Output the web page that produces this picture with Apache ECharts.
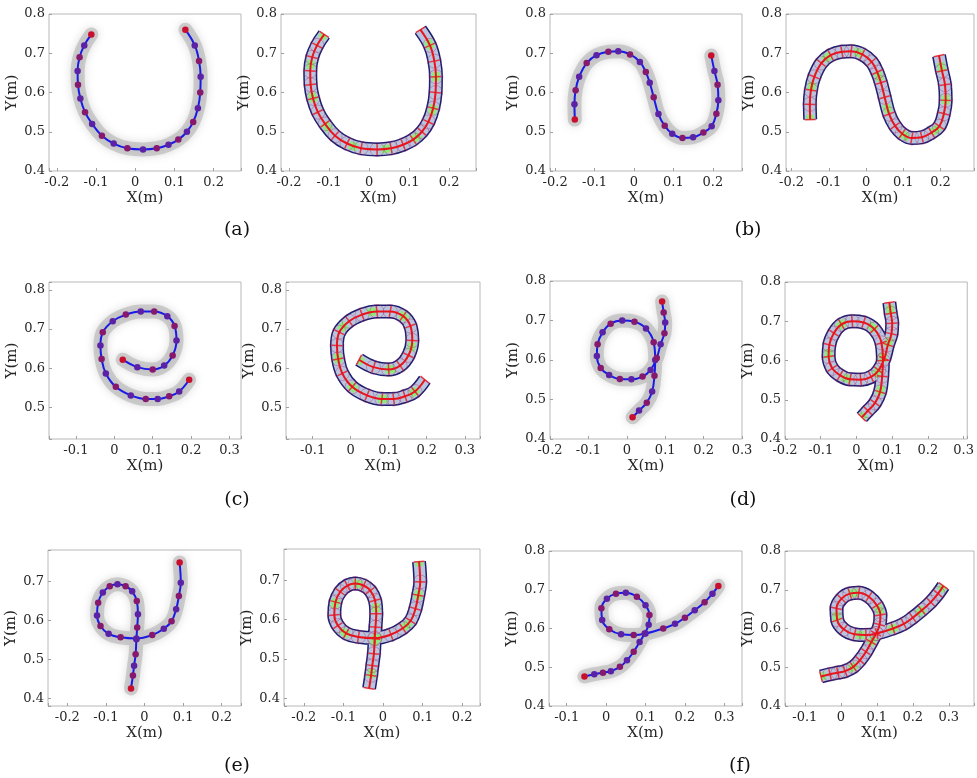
<!DOCTYPE html>
<html><head><meta charset="utf-8">
<script src="https://cdn.jsdelivr.net/npm/echarts@6/dist/echarts.min.js"></script>
<style>html,body{margin:0;padding:0;background:#fff}#c{width:977px;height:778px}</style>
</head><body><div id="c"></div>
<script>
// ---- data: stroke centerlines (metres) ----
const aX=[-0.112,-0.13,-0.142,-0.147,-0.146,-0.14,-0.128,-0.11,-0.085,-0.055,-0.02,0.02,0.055,0.085,0.11,0.132,0.148,0.16,0.166,0.167,0.163,0.152,0.128];
const aY=[0.748,0.72,0.69,0.655,0.62,0.585,0.55,0.52,0.49,0.47,0.458,0.455,0.458,0.467,0.48,0.5,0.525,0.56,0.6,0.64,0.68,0.72,0.76];
const bX=[-0.15,-0.151,-0.148,-0.139,-0.12,-0.095,-0.065,-0.04,-0.01,0.015,0.03,0.04,0.05,0.062,0.078,0.097,0.123,0.15,0.176,0.197,0.209,0.214,0.212,0.204,0.196];
const bY=[0.531,0.57,0.606,0.64,0.675,0.695,0.704,0.705,0.697,0.678,0.652,0.625,0.588,0.545,0.515,0.495,0.484,0.486,0.498,0.514,0.546,0.58,0.62,0.655,0.694];
const cX=[0.022,0.06,0.1,0.13,0.152,0.162,0.157,0.138,0.104,0.069,0.03,-0.004,-0.03,-0.036,-0.033,-0.022,0.004,0.043,0.082,0.113,0.143,0.169,0.195];
const cY=[0.622,0.603,0.597,0.607,0.633,0.671,0.708,0.733,0.745,0.745,0.737,0.72,0.692,0.658,0.624,0.587,0.553,0.531,0.522,0.522,0.529,0.541,0.571];
const dX=[0.015,0.032,0.052,0.066,0.072,0.074,0.07,0.05,0.02,-0.012,-0.042,-0.063,-0.076,-0.078,-0.068,-0.046,-0.018,0.012,0.041,0.062,0.078,0.088,0.098,0.1,0.096,0.092];
const dY=[0.455,0.472,0.492,0.52,0.56,0.6,0.645,0.68,0.697,0.7,0.692,0.67,0.64,0.61,0.58,0.562,0.552,0.551,0.558,0.575,0.605,0.64,0.668,0.695,0.72,0.748];
const eX=[0.091,0.094,0.089,0.082,0.07,0.05,0.02,-0.021,-0.062,-0.093,-0.114,-0.123,-0.12,-0.108,-0.09,-0.07,-0.049,-0.032,-0.02,-0.017,-0.019,-0.021,-0.023,-0.027,-0.03,-0.035];
const eY=[0.748,0.696,0.662,0.628,0.597,0.578,0.562,0.553,0.556,0.565,0.585,0.612,0.645,0.671,0.687,0.692,0.687,0.674,0.649,0.615,0.581,0.551,0.513,0.483,0.458,0.425];
const fX=[-0.055,-0.03,-0.008,0.012,0.035,0.053,0.07,0.085,0.098,0.108,0.11,0.1,0.078,0.05,0.025,0.002,-0.012,-0.01,0.008,0.038,0.07,0.1,0.145,0.175,0.2,0.225,0.25,0.27,0.285];
const fY=[0.476,0.482,0.486,0.49,0.501,0.518,0.54,0.565,0.587,0.61,0.635,0.66,0.682,0.692,0.69,0.677,0.652,0.622,0.598,0.585,0.583,0.587,0.6,0.612,0.628,0.647,0.668,0.69,0.71];

// ---- axis limits ----
const xLimLeft =[[-0.22,0.27],[-0.213,0.274],[-0.17,0.33],[-0.2,0.3],[-0.25,0.25],[-0.145,0.345]];
const xLimRight=[[-0.22,0.267],[-0.215,0.29],[-0.17,0.34],[-0.2,0.31],[-0.25,0.245],[-0.155,0.37]];
const yLims   =[[0.4,0.8],[0.4,0.8],[0.42,0.82],[0.4,0.8],[0.38,0.78],[0.4,0.8]];
const panelLabels=['(a)','(b)','(c)','(d)','(e)','(f)'];
const xName='X(m)', yName='Y(m)';

// ---- layout (pixels) ----
const gridLeftBox =[[49,14,192,157],[550,14,192,157],[49,282,192,157],[550,281,192,158],[48,550,193,156],[549,551,193,155]];
const gridRightBox=[[281,14,195,157],[786,14,200,157],[286,282,194,157],[785,282,200,157],[284,549,196,157],[785,551,200,155]];
const labelPos=[[237,230],[748,230],[237,500],[743,500],[237,766],[740,766]];

const strokes=[[aX,aY],[bX,bY],[cX,cY],[dX,dY],[eX,eY],[fX,fY]];
const FONT='DejaVu Serif', TXT='#262626';

function fmt(v){const r=Math.round(v*10);return Math.abs(v*10-r)<1e-6?(r===0?'0':String(r/10)):'';}

const grids=[],xAxes=[],yAxes=[],series=[],graphics=[];
function addAxes(box,xl,yl){
  const gi=grids.length;
  grids.push({left:box[0],top:box[1],width:box[2],height:box[3],show:true,borderColor:'#b8b8b8',borderWidth:1,backgroundColor:'#fff'});
  const common={gridIndex:gi,type:'value',splitNumber:5,minInterval:0.1,maxInterval:0.1,
    splitLine:{show:false},axisLine:{show:false,onZero:false},
    axisTick:{show:true,inside:true,length:3,lineStyle:{color:'#a0a0a0'}},
    axisLabel:{formatter:fmt,color:TXT,fontFamily:FONT,fontSize:13,showMinLabel:true,showMaxLabel:true},
    nameLocation:'middle',nameTextStyle:{color:TXT,fontFamily:FONT,fontSize:15}};
  xAxes.push(Object.assign({},common,{min:xl[0],max:xl[1],name:xName,nameGap:20,axisLabel:Object.assign({},common.axisLabel,{margin:5})}));
  yAxes.push(Object.assign({},common,{min:yl[0],max:yl[1],name:yName,nameGap:29,nameRotate:90,axisLabel:Object.assign({},common.axisLabel,{margin:4})}));
  return gi;
}
function pts(X,Y){return X.map((x,i)=>[x,Y[i]]);}

strokes.forEach((s,k)=>{
  const P=pts(s[0],s[1]);
  // left: captured trajectory
  const gl=addAxes(gridLeftBox[k],xLimLeft[k],yLims[k]);
  series.push({type:'line',xAxisIndex:gl,yAxisIndex:gl,data:P,smooth:0.4,symbol:'none',silent:true,z:1,
    lineStyle:{color:'rgba(175,175,175,0.55)',width:14,cap:'round',join:'round',shadowBlur:9,shadowColor:'rgba(150,150,150,0.6)'}});
  series.push({type:'line',xAxisIndex:gl,yAxisIndex:gl,data:P.map((p,i)=>({value:p,itemStyle:{color:(i===0||i===P.length-1)?'#c8102e':(i%2?'#5b22a6':'#86186e')}})),
    smooth:0.4,symbol:'circle',symbolSize:6.5,showSymbol:true,showAllSymbol:true,z:3,
    lineStyle:{color:'#1a1ae8',width:2}});
  // right: reconstructed tube
  const gr=addAxes(gridRightBox[k],xLimRight[k],yLims[k]);
  const box=gridRightBox[k], xl=xLimRight[k], yl=yLims[k];
  const sx=box[2]/(xl[1]-xl[0]), sy=box[3]/(yl[1]-yl[0]);
  const ang=i=>{const a=Math.max(0,i-1),b=Math.min(P.length-1,i+1);return Math.atan2((P[b][1]-P[a][1])*sy,(P[b][0]-P[a][0])*sx)*180/Math.PI;};
  const base={type:'line',xAxisIndex:gr,yAxisIndex:gr,data:P,smooth:0.4,symbol:'none',silent:true};
  series.push(Object.assign({},base,{z:1,lineStyle:{color:'#1d1d70',width:14,cap:'butt',join:'round'}}));
  series.push(Object.assign({},base,{z:2,lineStyle:{color:'#b9c5df',width:11,cap:'butt',join:'round'}}));
  series.push(Object.assign({},base,{z:3,lineStyle:{color:'rgba(135,238,110,0.85)',width:8,type:[9,24],dashOffset:4,cap:'butt'}}));
  series.push({type:'scatter',xAxisIndex:gr,yAxisIndex:gr,data:P.slice(1,P.length-1),symbol:'circle',symbolSize:14,silent:true,z:4,
    itemStyle:{color:'rgba(0,0,0,0)',borderColor:'rgba(160,40,100,0.45)',borderWidth:1}});
  series.push(Object.assign({},base,{z:5,lineStyle:{color:'#e8141e',width:2}}));
  series.push({type:'scatter',xAxisIndex:gr,yAxisIndex:gr,silent:true,z:6,symbol:'rect',symbolSize:[1.5,11],
    data:P.map((p,i)=>({value:p,symbolRotate:ang(i)})),itemStyle:{color:'#e8141e'}});
  graphics.push({type:'text',x:labelPos[k][0],y:labelPos[k][1],style:{text:panelLabels[k],fill:'#111',font:'19px "DejaVu Serif"',textAlign:'center',textVerticalAlign:'middle',align:'center',verticalAlign:'middle'}});
});

const chart=echarts.init(document.getElementById('c'),null,{renderer:'canvas'});
chart.setOption({backgroundColor:'#fff',animation:false,grid:grids,xAxis:xAxes,yAxis:yAxes,series:series,graphic:graphics});
</script></body></html>
